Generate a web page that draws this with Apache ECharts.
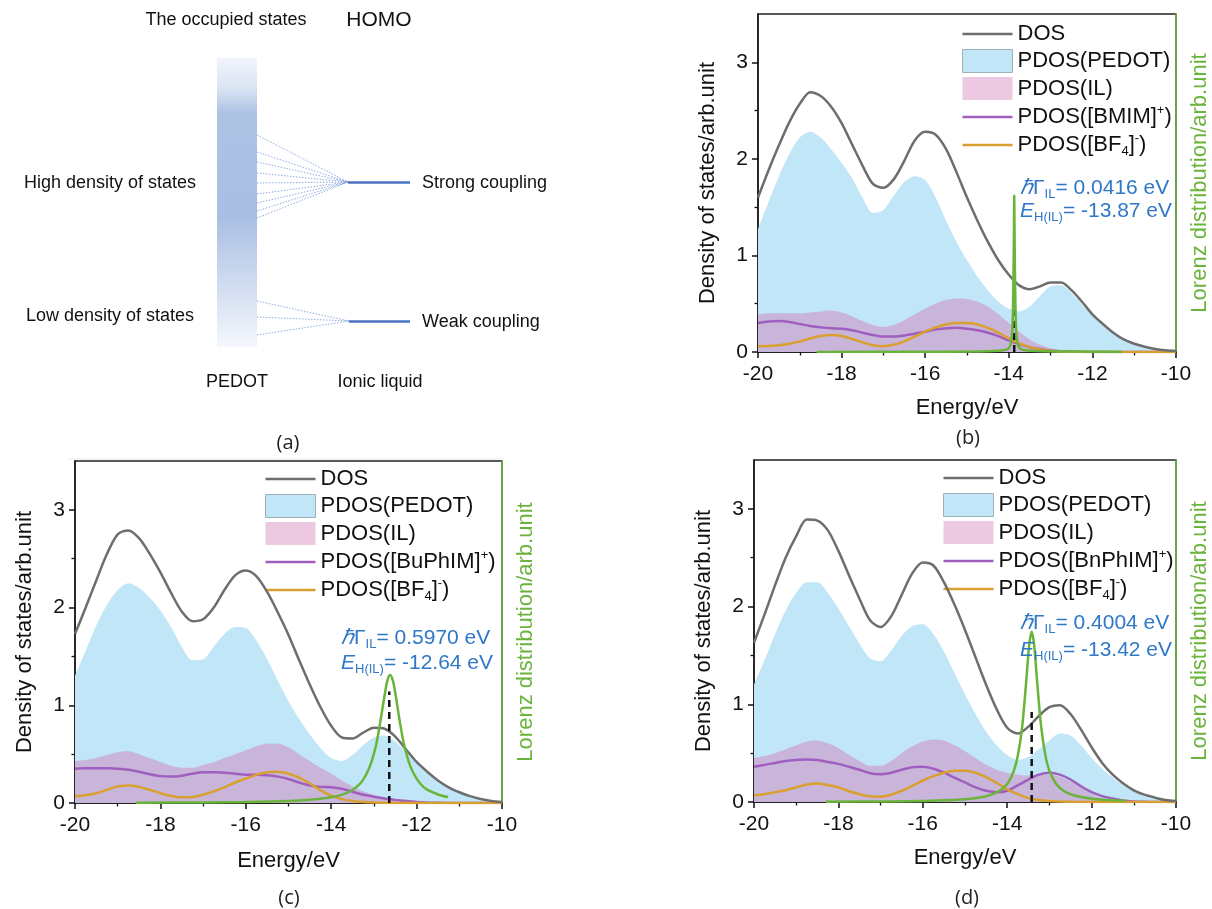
<!DOCTYPE html>
<html><head><meta charset="utf-8">
<script src="https://cdn.jsdelivr.net/npm/echarts@6/dist/echarts.min.js"></script>
<style>html,body{margin:0;padding:0;background:#fff}#c{width:1212px;height:909px}</style>
</head><body><div id="c"></div>
<script>
// ---------- data ----------
const energy = [-20,-19.75,-19.5,-19.25,-19,-18.75,-18.5,-18.25,-18,-17.75,-17.5,-17.25,-17,-16.75,-16.5,-16.25,-16,-15.75,-15.5,-15.25,-15,
                -14.75,-14.5,-14.25,-14,-13.75,-13.5,-13.25,-13,-12.75,-12.5,-12.25,-12,-11.75,-11.5,-11.25,-11,-10.75,-10.5,-10.25,-10];
const yTicks = [0,1,2,3];
const yMinorTicks = [0.5,1.5,2.5];

// panel (b) [BMIM]BF4
const dosB   = [1.60,1.88,2.14,2.38,2.57,2.69,2.65,2.54,2.37,2.15,1.93,1.74,1.70,1.79,1.98,2.19,2.28,2.25,2.10,1.86,1.60,
                1.36,1.14,0.95,0.80,0.69,0.65,0.68,0.72,0.72,0.64,0.52,0.39,0.29,0.20,0.13,0.085,0.055,0.032,0.018,0.01];
const pedotB = [1.27,1.55,1.82,2.05,2.22,2.28,2.22,2.10,1.96,1.80,1.60,1.44,1.47,1.62,1.76,1.82,1.78,1.60,1.36,1.14,0.95,
                0.78,0.64,0.52,0.45,0.42,0.47,0.58,0.68,0.69,0.61,0.49,0.37,0.27,0.19,0.125,0.08,0.05,0.03,0.017,0.01];
const ilB    = [0.39,0.40,0.40,0.40,0.40,0.41,0.42,0.43,0.41,0.37,0.32,0.28,0.26,0.28,0.33,0.39,0.45,0.50,0.54,0.555,0.55,
                0.52,0.47,0.39,0.30,0.21,0.13,0.075,0.04,0.02,0.01,0.005,0,0,0,0,0,0,0,0,0];
const catB   = [0.30,0.315,0.32,0.31,0.29,0.27,0.255,0.245,0.24,0.225,0.20,0.175,0.16,0.16,0.17,0.19,0.21,0.235,0.245,0.25,0.24,
                0.225,0.20,0.165,0.12,0.08,0.05,0.03,0.015,0.008,0.004,0.002,0,0,0,0,0,0,0,0,0];
const bf4B   = [0.06,0.062,0.07,0.085,0.11,0.14,0.165,0.175,0.165,0.135,0.10,0.07,0.06,0.075,0.11,0.16,0.21,0.255,0.285,0.30,0.30,
                0.285,0.25,0.20,0.14,0.09,0.05,0.025,0.012,0.006,0.003,0.001,0,0,0,0,0,0,0,0,0];
const lorBE  = [-18.6,-16,-14.5,-14.1,-14.0,-13.95,-13.92,-13.9,-13.88,-13.87,-13.86,-13.84,-13.82,-13.79,-13.74,-13.64,-13.2,-12,-11.3];
const lorBV  = [0,0.003,0.008,0.02,0.04,0.09,0.2,0.45,1.1,1.62,1.1,0.45,0.2,0.09,0.04,0.02,0.008,0.003,0];
const ehB = -13.87, dashTopB = 1.1;

// panel (c) [BuPhIM]BF4
const dosC   = [1.73,2.00,2.28,2.55,2.75,2.79,2.71,2.55,2.36,2.15,1.96,1.86,1.88,2.00,2.18,2.33,2.38,2.32,2.16,1.95,1.72,
                1.46,1.21,0.98,0.79,0.67,0.66,0.72,0.77,0.76,0.68,0.55,0.42,0.32,0.23,0.16,0.11,0.07,0.04,0.02,0.01];
const pedotC = [1.30,1.56,1.82,2.03,2.18,2.25,2.20,2.10,1.97,1.80,1.60,1.46,1.47,1.60,1.73,1.80,1.79,1.66,1.47,1.25,1.04,
                0.86,0.70,0.56,0.46,0.43,0.49,0.59,0.67,0.69,0.63,0.53,0.42,0.32,0.23,0.16,0.11,0.07,0.04,0.02,0.01];
const ilC    = [0.43,0.44,0.46,0.49,0.52,0.53,0.50,0.46,0.42,0.38,0.36,0.36,0.39,0.42,0.46,0.50,0.54,0.58,0.61,0.61,0.57,
                0.50,0.43,0.36,0.30,0.23,0.17,0.12,0.08,0.05,0.03,0.02,0.01,0.005,0,0,0,0,0,0,0];
const catC   = [0.35,0.355,0.355,0.355,0.35,0.34,0.32,0.295,0.275,0.27,0.28,0.30,0.315,0.315,0.31,0.30,0.29,0.29,0.285,0.27,0.245,
                0.21,0.18,0.165,0.16,0.145,0.115,0.085,0.065,0.045,0.032,0.02,0.01,0.005,0.002,0,0,0,0,0,0];
const bf4C   = [0.07,0.08,0.10,0.135,0.17,0.18,0.165,0.135,0.10,0.072,0.058,0.062,0.085,0.12,0.16,0.21,0.25,0.29,0.315,0.32,0.30,
                0.26,0.20,0.13,0.075,0.04,0.02,0.01,0.005,0.002,0,0,0,0,0,0,0,0,0,0,0];
const lorCE  = [-18.57,-17,-16,-15,-14.5,-14,-13.6,-13.3,-13.1,-12.95,-12.85,-12.75,-12.68,-12.62,-12.56,-12.5,-12.4,-12.3,-12.15,-12,-11.8,-11.5,-11.26];
const lorCV  = [0.003,0.006,0.01,0.02,0.033,0.058,0.11,0.21,0.37,0.59,0.83,1.1,1.26,1.31,1.26,1.13,0.85,0.61,0.38,0.25,0.15,0.087,0.06];
const ehC = -12.64, dashTopC = 1.14;

// panel (d) [BnPhIM]BF4
const dosD   = [1.63,1.92,2.22,2.50,2.72,2.89,2.88,2.78,2.57,2.32,2.08,1.86,1.79,1.90,2.12,2.34,2.45,2.42,2.25,2.02,1.76,
                1.48,1.20,0.95,0.76,0.70,0.77,0.88,0.97,0.99,0.90,0.74,0.56,0.40,0.28,0.19,0.12,0.075,0.045,0.02,0.01];
const pedotD = [1.20,1.45,1.72,1.96,2.14,2.25,2.25,2.14,1.98,1.80,1.62,1.47,1.44,1.55,1.70,1.80,1.82,1.72,1.54,1.32,1.10,
                0.90,0.72,0.58,0.48,0.43,0.46,0.54,0.63,0.70,0.68,0.58,0.45,0.34,0.25,0.17,0.11,0.07,0.04,0.02,0.01];
const ilD    = [0.45,0.47,0.50,0.54,0.58,0.62,0.63,0.60,0.55,0.48,0.42,0.37,0.37,0.42,0.50,0.57,0.62,0.64,0.63,0.58,0.52,
                0.45,0.38,0.33,0.30,0.28,0.27,0.28,0.28,0.26,0.21,0.14,0.08,0.04,0.02,0.01,0.004,0,0,0,0];
const catD   = [0.36,0.38,0.40,0.42,0.43,0.435,0.43,0.41,0.39,0.36,0.33,0.295,0.285,0.30,0.33,0.355,0.36,0.34,0.30,0.25,0.20,
                0.15,0.115,0.10,0.115,0.17,0.23,0.28,0.30,0.28,0.23,0.16,0.10,0.06,0.035,0.015,0.006,0.002,0,0,0];
const bf4D   = [0.07,0.08,0.10,0.12,0.15,0.18,0.19,0.175,0.15,0.11,0.08,0.058,0.055,0.075,0.115,0.165,0.22,0.265,0.30,0.32,0.32,
                0.30,0.255,0.195,0.13,0.08,0.04,0.02,0.01,0.004,0.002,0,0,0,0,0,0,0,0,0,0];
const lorDE  = [-18.3,-17,-16,-15,-14.5,-14.2,-14.0,-13.85,-13.75,-13.65,-13.55,-13.48,-13.42,-13.36,-13.3,-13.2,-13.1,-13.0,-12.8,-12.5,-12,-11.5,-11.2];
const lorDV  = [0.003,0.0056,0.0104,0.0275,0.058,0.108,0.184,0.31,0.47,0.75,1.23,1.6,1.745,1.6,1.28,0.79,0.49,0.32,0.165,0.079,0.034,0.019,0.014];
const ehD = -13.42, dashTopD = 0.92;

const cations = ['BMIM','BuPhIM','BnPhIM'];
const gammaText = ['0.0416','0.5970','0.4004'];
const ehText = ['-13.87','-12.64','-13.42'];

// ---------- schematic (a) geometry ----------
const fanHighStartY = [135,152,162,173,183,194,203,211,218];
const fanLowStartY = [301,317,335];

// ---------- styles ----------
const FONT = '"Liberation Sans", Arial, sans-serif';
const C = {dos:'#6e6e6e', pedot:'#c0e6f7', il:'#c9b5da', ilLegend:'#edc9e1', cat:'#a05fbe', bf4:'#d9a030', lor:'#6ab43c', txt:'#111', ann:'#2e78c7'};
const LINE_ICON = 'path://M0,0 L50,0 L50,2.6 L0,2.6 Z';

const grids = [
  {left:758, top:14, width:421, height:338},
  {left:75, top:461, width:427, height:342},
  {left:754, top:460, width:425, height:342}
];
const xNameGap = [45,47,45];

const xAxes = [], yAxes = [], series = [], legends = [];
const panels = [
  {dos:dosB, pedot:pedotB, il:ilB, cat:catB, bf4:bf4B, lE:lorBE, lV:lorBV, eh:ehB, dt:dashTopB},
  {dos:dosC, pedot:pedotC, il:ilC, cat:catC, bf4:bf4C, lE:lorCE, lV:lorCV, eh:ehC, dt:dashTopC},
  {dos:dosD, pedot:pedotD, il:ilD, cat:catD, bf4:bf4D, lE:lorDE, lV:lorDV, eh:ehD, dt:dashTopD}
];
const legendPos = [{left:957, top:18}, {left:260, top:463}, {left:938, top:462}];
const legendText = {};

panels.forEach((P, p) => {
  xAxes.push({
    gridIndex:p, type:'value', min:-20, max:-10, interval:2,
    axisLine:{onZero:false, lineStyle:{color:C.txt, width:1.5}},
    axisTick:{length:6, lineStyle:{color:C.txt, width:1.5}},
    minorTick:{show:true, splitNumber:2, length:3.5, lineStyle:{color:C.txt, width:1.3}},
    axisLabel:{fontSize:21, color:C.txt, margin:12, fontFamily:FONT},
    splitLine:{show:false}, minorSplitLine:{show:false},
    name:'Energy/eV', nameLocation:'middle', nameGap:xNameGap[p],
    nameTextStyle:{fontSize:22, color:C.txt, fontFamily:FONT}
  });
  yAxes.push({
    gridIndex:p, type:'value', position:'left', min:0, max:3.5,
    axisLine:{show:true, lineStyle:{color:C.txt, width:1.5}},
    axisTick:{show:true, length:6, customValues:yTicks, lineStyle:{color:C.txt, width:1.5}},
    axisLabel:{fontSize:21, color:C.txt, margin:10, fontFamily:FONT, customValues:yTicks},
    splitLine:{show:false},
    name:'Density of states/arb.unit', nameLocation:'middle', nameGap:39, nameRotate:90,
    nameTextStyle:{fontSize:22, color:C.txt, fontFamily:FONT}
  });
  yAxes.push({
    gridIndex:p, type:'value', position:'right', min:0, max:3.5,
    axisLine:{show:true, lineStyle:{color:C.lor, width:1.5}},
    axisTick:{show:false}, axisLabel:{show:false}, splitLine:{show:false},
    name:'Lorenz distribution/arb.unit', nameLocation:'middle', nameGap:13, nameRotate:90,
    nameTextStyle:{fontSize:22, color:C.lor, fontFamily:FONT}
  });
  yAxes.push({
    gridIndex:p, type:'value', position:'left', min:0, max:3.5,
    axisLine:{show:false},
    axisTick:{show:true, length:3.5, customValues:yMinorTicks, lineStyle:{color:C.txt, width:1.3}},
    axisLabel:{show:false}, splitLine:{show:false}
  });
  const yi = 3*p;
  const suf = '#' + p;
  const xy = a => energy.map((e,i) => [e, a[i]]);
  const SM = 0.3;
  series.push(
    {name:'PDOS(PEDOT)'+suf, type:'line', xAxisIndex:p, yAxisIndex:yi, data:xy(P.pedot), smooth:SM, symbol:'none',
     lineStyle:{width:0}, itemStyle:{color:C.pedot}, areaStyle:{color:C.pedot, opacity:1}, z:2},
    {name:'PDOS(IL)'+suf, type:'line', xAxisIndex:p, yAxisIndex:yi, data:xy(P.il), smooth:SM, symbol:'none',
     lineStyle:{width:0}, itemStyle:{color:C.il}, areaStyle:{color:C.il, opacity:1}, z:3},
    {name:'cat'+suf, type:'line', xAxisIndex:p, yAxisIndex:yi, data:xy(P.cat), smooth:SM, symbol:'none',
     lineStyle:{width:2.5, color:C.cat}, itemStyle:{color:C.cat}, z:4},
    {name:'bf4'+suf, type:'line', xAxisIndex:p, yAxisIndex:yi, data:xy(P.bf4), smooth:SM, symbol:'none',
     lineStyle:{width:2.5, color:C.bf4}, itemStyle:{color:C.bf4}, z:4},
    {name:'DOS'+suf, type:'line', xAxisIndex:p, yAxisIndex:yi, data:xy(P.dos), smooth:SM, symbol:'none',
     lineStyle:{width:2.5, color:C.dos}, itemStyle:{color:C.dos}, z:5},
    {name:'dash'+suf, type:'line', xAxisIndex:p, yAxisIndex:yi, data:[[P.eh,0],[P.eh,P.dt]], symbol:'none',
     lineStyle:{width:2.5, color:C.txt, type:[7,5]}, z:6, silent:true},
    {name:'lor'+suf, type:'line', xAxisIndex:p, yAxisIndex:yi+1, data:P.lE.map((e,i)=>[e,P.lV[i]]), smooth:0.3, symbol:'none',
     lineStyle:{width:2.5, color:C.lor}, itemStyle:{color:C.lor}, z:7}
  );
  legendText['DOS'+suf] = '{n|DOS}';
  legendText['PDOS(PEDOT)'+suf] = '{n|PDOS(PEDOT)}';
  legendText['PDOS(IL)'+suf] = '{n|PDOS(IL)}';
  legendText['cat'+suf] = '{n|PDOS([' + cations[p] + ']}{sup|+}{n|)}';
  legendText['bf4'+suf] = '{n|PDOS([BF}{sub|4}{n|]}{sup|-}{n|)}';
  legends.push({
    orient:'vertical', left:legendPos[p].left, top:legendPos[p].top,
    itemWidth:50, itemHeight:23, itemGap:4, selectedMode:false, symbolKeepAspect:true,
    data:[
      {name:'DOS'+suf, icon:LINE_ICON, itemStyle:{color:C.dos}},
      {name:'PDOS(PEDOT)'+suf, icon:'rect', itemStyle:{color:C.pedot, borderColor:'#9fb0b8', borderWidth:1}},
      {name:'PDOS(IL)'+suf, icon:'rect', itemStyle:{color:C.ilLegend}},
      {name:'cat'+suf, icon:LINE_ICON, itemStyle:{color:C.cat}},
      {name:'bf4'+suf, icon:LINE_ICON, itemStyle:{color:C.bf4}}
    ],
    formatter: n => legendText[n],
    textStyle:{color:C.txt, fontFamily:FONT, fontSize:22, rich:{
      n:{fontSize:22, lineHeight:26, color:C.txt, fontFamily:FONT},
      sup:{fontSize:13, lineHeight:13, verticalAlign:'top', color:C.txt, fontFamily:FONT},
      sub:{fontSize:13, lineHeight:13, verticalAlign:'bottom', color:C.txt, fontFamily:FONT}
    }}
  });
});

// schematic grid (a)
const gridsAll = grids.map(g => Object.assign({show:true, borderColor:'#222', borderWidth:1.3, backgroundColor:'transparent'}, g));
gridsAll.push({left:0, top:0, width:600, height:460, show:false});
xAxes.push({gridIndex:3, type:'value', min:0, max:600, show:false});
yAxes.push({gridIndex:3, type:'value', min:0, max:460, inverse:true, show:false});
const fanData = fanHighStartY.map(y => ({coords:[[257,y],[348,182]]}))
  .concat(fanLowStartY.map(y => ({coords:[[257,y],[349,321]]})));
series.push(
  {type:'lines', coordinateSystem:'cartesian2d', xAxisIndex:3, yAxisIndex:9, data:fanData, silent:true,
   lineStyle:{color:'#86a3dc', width:1, type:[1.5,1.5], opacity:0.9}, z:3},
  {type:'lines', coordinateSystem:'cartesian2d', xAxisIndex:3, yAxisIndex:9, silent:true,
   data:[{coords:[[348,182],[410,182]]},{coords:[[349,321],[410,321]]}],
   lineStyle:{color:'#4a72c2', width:2.5, opacity:1}, z:3}
);

// text graphics
function txt(x, y, text, size, align, color, fam) {
  return {type:'text', x:x, y:y, z:20, style:{text:text, fill:color||C.txt, font:size+'px '+(fam||FONT), align:align||'center', verticalAlign:'middle'}};
}
const annRich = {
  i:{fontStyle:'italic', fontSize:21, lineHeight:26, fontFamily:FONT},
  n:{fontSize:21, lineHeight:26, fontFamily:FONT},
  s:{fontSize:13, lineHeight:13, verticalAlign:'bottom', fontFamily:FONT}
};
function ann(x, y, text) {
  return {type:'text', x:x, y:y, z:20, style:{text:text, fill:C.ann, font:'21px '+FONT, align:'left', verticalAlign:'middle', rich:annRich}};
}
const annPos = [[1020,188,211],[341,638,663],[1020,623,650]];
const graphics = [
  {type:'rect', z:1, shape:{x:217, y:58, width:40, height:289}, style:{fill:new echarts.graphic.LinearGradient(0,0,0,1,[
    {offset:0, color:'#f1f4fb'},{offset:0.1, color:'#dce5f4'},{offset:0.19, color:'#aec2e4'},
    {offset:0.55, color:'#a9bee3'},{offset:0.68, color:'#bfcfeb'},{offset:0.85, color:'#dbe4f4'},{offset:1, color:'#f5f7fc'}])}},
  txt(226, 20, 'The occupied states', 18),
  txt(379, 20, 'HOMO', 21),
  txt(110, 183, 'High density of states', 18),
  txt(110, 316, 'Low density of states', 18),
  txt(422, 183, 'Strong coupling', 18, 'left'),
  txt(422, 322, 'Weak coupling', 18, 'left'),
  txt(237, 382, 'PEDOT', 18),
  txt(380, 382, 'Ionic liquid', 18),
  txt(288, 443, '(a)', 20, 'center', '#222', '"Open Sans", sans-serif'),
  txt(968, 438, '(b)', 20, 'center', '#222', '"Open Sans", sans-serif'),
  txt(289, 898, '(c)', 20, 'center', '#222', '"Open Sans", sans-serif'),
  txt(967, 898, '(d)', 20, 'center', '#222', '"Open Sans", sans-serif'),
  {type:'line', z:1, shape:{x1:69, y1:459, x2:504, y2:459}, style:{stroke:'#ececec', lineWidth:1}}
];
annPos.forEach((a, p) => {
  graphics.push(ann(a[0], a[1], '{i|\u210F}{n|\u0393}{s|IL}{n|= ' + gammaText[p] + ' eV}'));
  graphics.push(ann(a[0], a[2], '{i|E}{s|H(IL)}{n|= ' + ehText[p] + ' eV}'));
});

const chart = echarts.init(document.getElementById('c'), null, {renderer:'canvas'});
chart.setOption({
  animation:false,
  backgroundColor:'#fff',
  textStyle:{fontFamily:FONT},
  grid:gridsAll, xAxis:xAxes, yAxis:yAxes, legend:legends, series:series, graphic:graphics
});
</script></body></html>
